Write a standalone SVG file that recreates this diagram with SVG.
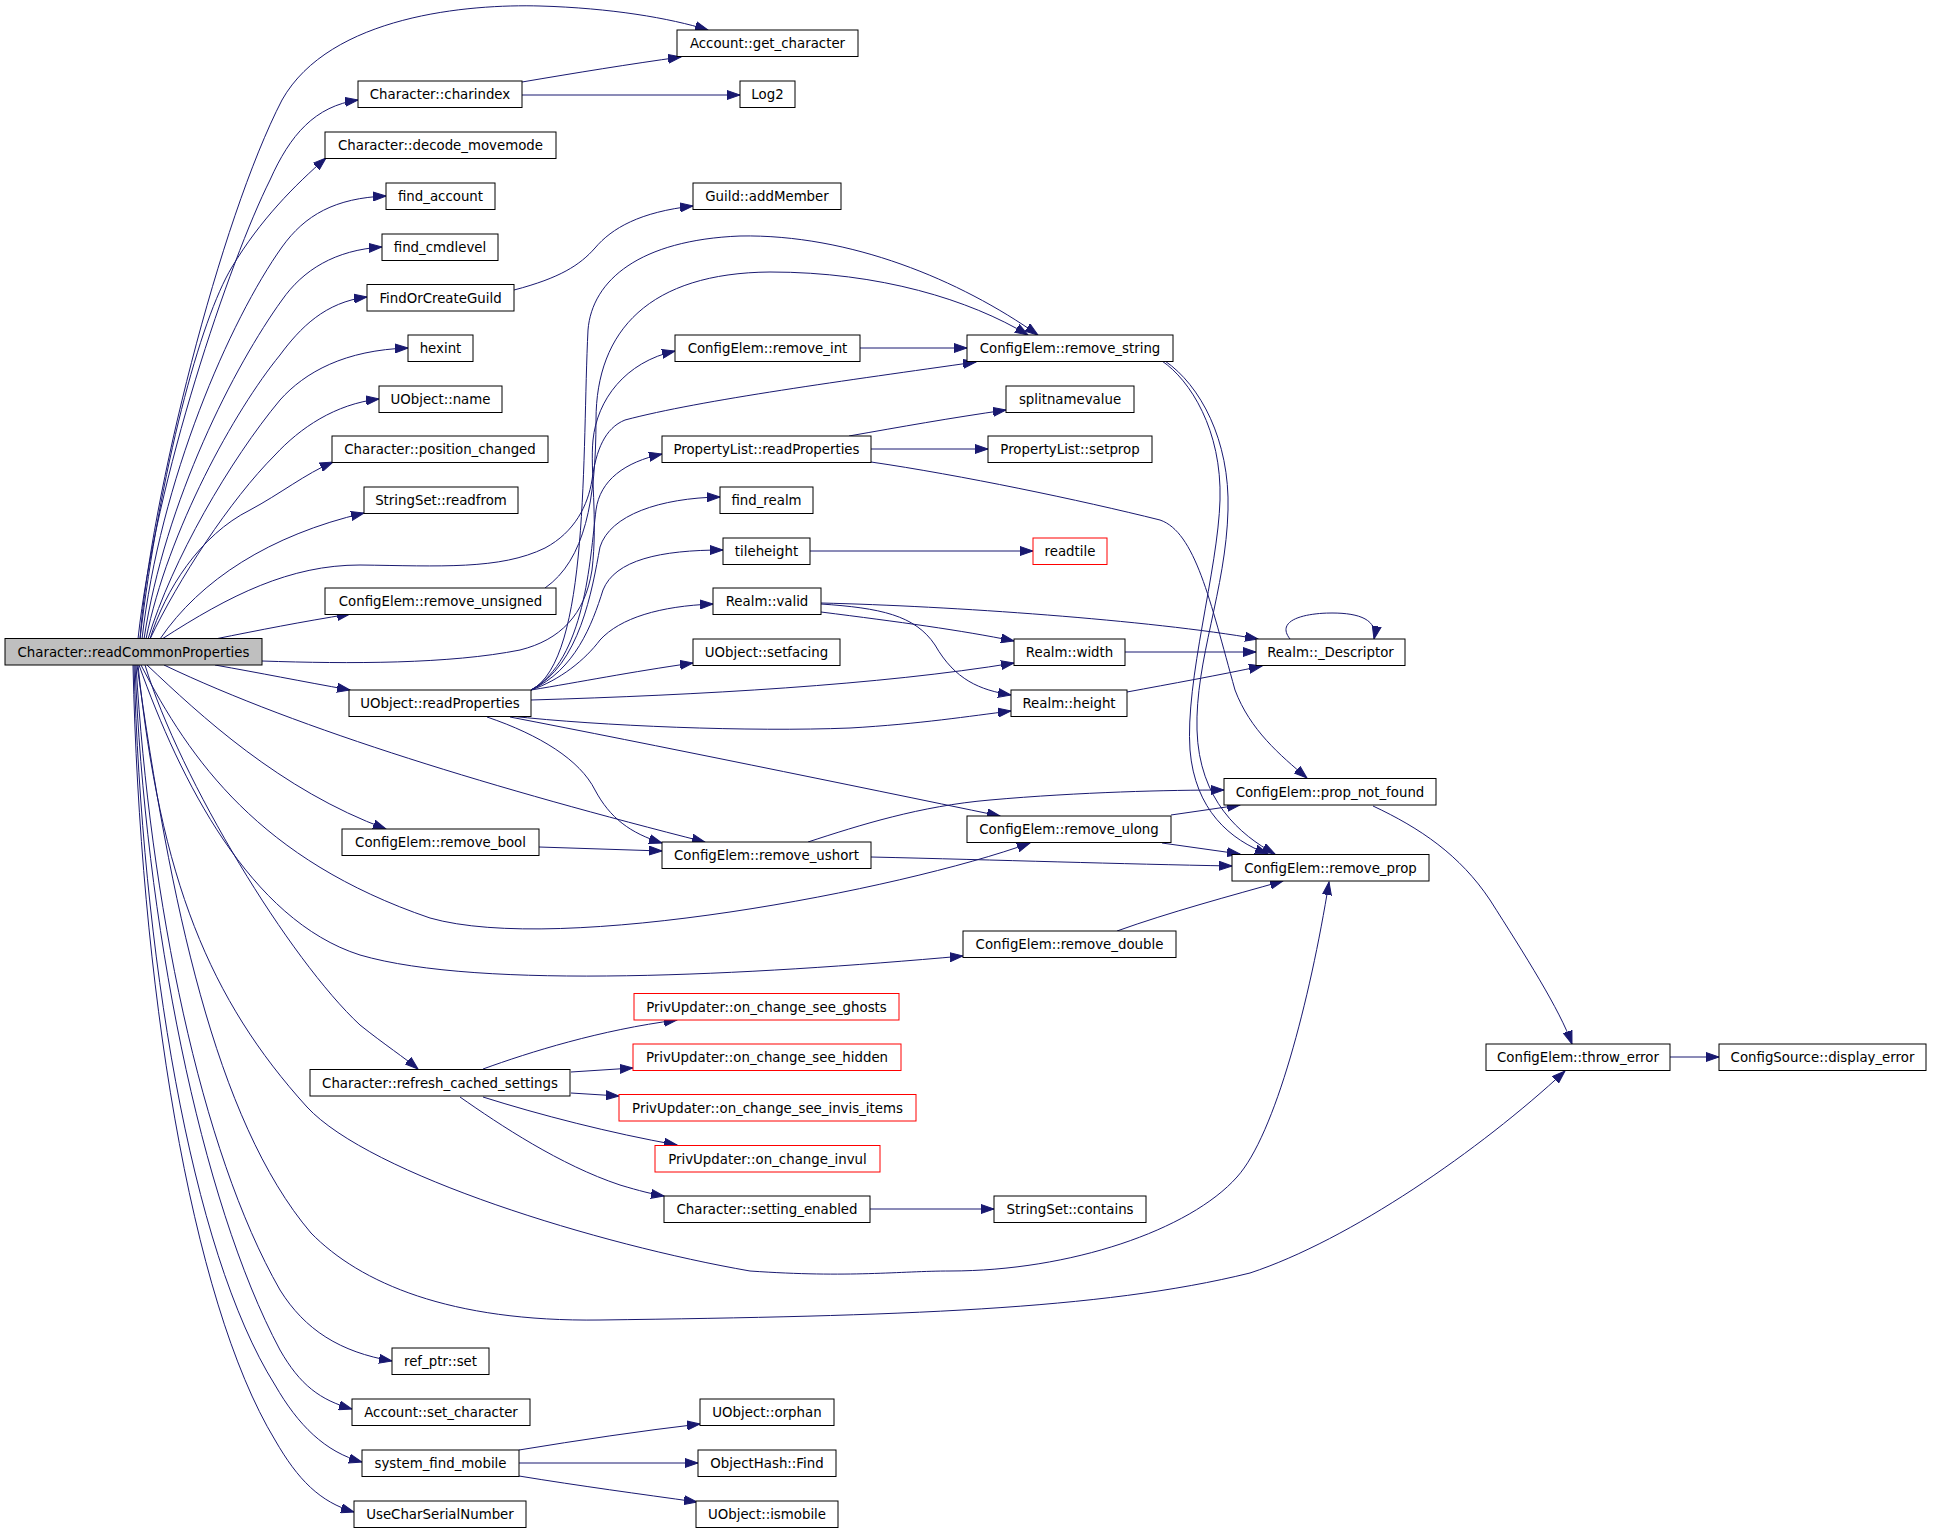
<svg xmlns="http://www.w3.org/2000/svg" width="1933" height="1532" viewBox="0 0 1933 1532">
<style>
.n rect{fill:#fff;stroke:#000;stroke-width:1}
.n.red rect{stroke:#ff0000}
.n.root rect{fill:#bfbfbf}
.n text{font-family:"DejaVu Sans","Liberation Sans",sans-serif;font-size:13.33px;text-anchor:middle;fill:#000}
#edges path{fill:none;stroke:#191970;stroke-width:1;marker-end:url(#arr)}
</style>
<defs>
<marker id="arr" markerUnits="userSpaceOnUse" markerWidth="14" markerHeight="10" viewBox="0 0 14 10" refX="13" refY="5" orient="auto">
<path d="M0,0.5 L13,5 L0,9.5 z" fill="#191970" stroke="#191970" stroke-width="1"/>
</marker>
</defs>
<rect width="1933" height="1532" fill="#fff"/>
<g id="edges">
<path d="M140,639 C150,500 220,220 282,100 C330,15 470,4 540,6 C610,8 670,18 708,30"/>
<path d="M138,639 C155,480 230,260 270,180 C290,135 315,106 358,100"/>
<path d="M140,639 C160,470 200,320 232,267 C260,220 295,185 326,158"/>
<path d="M142,639 C160,480 230,320 282,247 C305,215 335,198 386,196"/>
<path d="M144,639 C165,500 235,365 282,300 C303,270 335,250 382,247"/>
<path d="M146,639 C168,530 235,410 280,355 C300,328 325,302 367,297"/>
<path d="M148,639 C172,560 230,460 280,400 C305,372 345,350 408,348"/>
<path d="M150,639 C178,580 230,500 275,455 C300,428 335,404 379,399"/>
<path d="M150,639 C165,590 200,535 250,510 C280,494 305,474 333,462"/>
<path d="M160,639 C200,580 270,535 364,513"/>
<path d="M215,639 C260,630 300,622 350,614"/>
<path d="M215,665 C260,673 300,681 350,690"/>
<path d="M162,639 C230,595 290,565 360,565 C440,566 500,570 545,548 C575,532 588,505 592,480 C596,450 605,428 625,420 C700,400 850,380 976,362"/>
<path d="M262,661 C350,664 450,664 520,650 C560,640 585,615 592,570 C598,520 590,470 593,440 C597,400 625,362 675,351"/>
<path d="M147,665 C200,715 280,790 386,829"/>
<path d="M164,665 C300,730 500,790 705,842"/>
<path d="M141,665 C190,760 260,860 430,918 C560,955 900,890 1030,843"/>
<path d="M139,665 C180,780 250,920 360,955 C480,990 750,975 963,956"/>
<path d="M145,665 C180,780 290,960 360,1025 C385,1045 405,1058 418,1069"/>
<path d="M138,665 C160,880 210,1000 307,1107 C370,1175 600,1245 750,1271 C850,1278 900,1271 950,1271 C1070,1271 1190,1230 1237,1177 C1275,1135 1310,1000 1329,882"/>
<path d="M137,665 C170,900 215,1120 311,1233 C360,1283 450,1322 600,1320 C900,1316 1100,1310 1250,1273 C1350,1240 1480,1150 1565,1071"/>
<path d="M136,665 C150,900 200,1150 280,1290 C305,1330 340,1352 392,1361"/>
<path d="M135,665 C145,920 200,1200 280,1350 C300,1385 320,1400 352,1409"/>
<path d="M134,665 C142,950 190,1250 275,1385 C298,1425 325,1452 362,1462"/>
<path d="M133,665 C140,980 190,1300 275,1440 C298,1480 320,1502 354,1512"/>
<path d="M522,82 C575,73 630,64 681,57"/>
<path d="M522,95 L740,95"/>
<path d="M514,290 C560,278 580,265 595,248 C612,228 640,212 693,206"/>
<path d="M531,690 C590,660 582,450 588,330 C592,280 640,240 740,236 C850,234 960,280 1038,335"/>
<path d="M545,588 C585,560 596,500 596,420 C596,330 650,273 770,272 C880,272 970,300 1028,335"/>
<path d="M531,690 C585,660 590,560 596,510 C600,480 625,462 662,454"/>
<path d="M531,690 C580,665 592,590 600,547 C610,515 660,498 720,497"/>
<path d="M531,690 C575,670 592,625 603,590 C615,560 660,550 723,550"/>
<path d="M531,690 C560,680 585,660 600,640 C620,618 660,606 713,604"/>
<path d="M531,690 C580,682 630,672 693,663"/>
<path d="M531,700 C700,695 880,685 1014,663"/>
<path d="M510,716 C600,726 750,732 850,728 C920,724 970,716 1011,711"/>
<path d="M510,717 C650,744 850,785 1000,816"/>
<path d="M487,717 C540,735 580,760 595,790 C610,818 630,833 662,843"/>
<path d="M860,348 L967,348"/>
<path d="M849,436 C900,427 950,418 1006,410"/>
<path d="M871,449 L988,449"/>
<path d="M871,462 C960,475 1080,500 1160,520 C1195,532 1210,600 1235,690 C1250,730 1280,755 1307,778"/>
<path d="M1162,361 C1190,380 1222,430 1220,500 C1218,570 1185,680 1190,750 C1195,810 1230,840 1268,854"/>
<path d="M1165,361 C1200,385 1230,440 1228,510 C1226,590 1195,660 1197,730 C1199,800 1240,835 1275,854"/>
<path d="M810,551 L1033,551"/>
<path d="M821,603 C950,606 1150,620 1258,639"/>
<path d="M821,612 C900,622 960,630 1014,641"/>
<path d="M821,604 C880,608 915,615 935,645 C955,680 980,690 1011,695"/>
<path d="M1125,652 L1256,652"/>
<path d="M1127,692 C1170,684 1220,675 1262,666"/>
<path d="M1290,639 C1275,620 1305,613 1332,613 C1360,613 1378,620 1374,639"/>
<path d="M808,842 C860,825 920,806 990,800 C1080,792 1170,790 1224,790"/>
<path d="M871,857 C1000,860 1120,864 1232,866"/>
<path d="M539,847 L662,851"/>
<path d="M1171,815 L1240,805"/>
<path d="M1162,843 L1240,854"/>
<path d="M1117,931 C1170,912 1230,896 1283,881"/>
<path d="M1373,806 C1420,828 1460,855 1490,900 C1525,955 1560,1010 1572,1044"/>
<path d="M1670,1057 L1719,1057"/>
<path d="M483,1069 C530,1052 600,1030 677,1020"/>
<path d="M571,1072 L633,1068"/>
<path d="M571,1093 L619,1096"/>
<path d="M483,1097 C540,1115 610,1133 677,1145"/>
<path d="M460,1097 C500,1125 560,1165 620,1185 C640,1191 652,1194 664,1196"/>
<path d="M870,1209 L994,1209"/>
<path d="M519,1450 C580,1440 640,1431 700,1424"/>
<path d="M519,1463 L698,1463"/>
<path d="M519,1476 C580,1486 640,1494 697,1502"/>
</g>
<g id="n_R" class="n root"><rect x="5" y="638.5" width="257" height="26.5"/><text x="133.5" y="656.5">Character::readCommonProperties</text></g>
<g id="n_get_character" class="n"><rect x="677" y="30" width="181" height="26.5"/><text x="767.5" y="48">Account::get_character</text></g>
<g id="n_charindex" class="n"><rect x="358" y="81" width="164" height="26.5"/><text x="440" y="99">Character::charindex</text></g>
<g id="n_log2" class="n"><rect x="740" y="81" width="55" height="26.5"/><text x="767.5" y="99">Log2</text></g>
<g id="n_decode" class="n"><rect x="325" y="132" width="231" height="26.5"/><text x="440.5" y="150">Character::decode_movemode</text></g>
<g id="n_find_account" class="n"><rect x="386" y="183" width="109" height="26.5"/><text x="440.5" y="201">find_account</text></g>
<g id="n_addmember" class="n"><rect x="693" y="183" width="148" height="26.5"/><text x="767" y="201">Guild::addMember</text></g>
<g id="n_cmdlevel" class="n"><rect x="382" y="234" width="116" height="26.5"/><text x="440" y="252">find_cmdlevel</text></g>
<g id="n_guild" class="n"><rect x="367" y="284.5" width="147" height="26.5"/><text x="440.5" y="302.5">FindOrCreateGuild</text></g>
<g id="n_hexint" class="n"><rect x="408" y="335" width="65" height="26.5"/><text x="440.5" y="353">hexint</text></g>
<g id="n_remove_int" class="n"><rect x="675" y="335" width="185" height="26.5"/><text x="767.5" y="353">ConfigElem::remove_int</text></g>
<g id="n_remove_string" class="n"><rect x="967" y="335" width="206" height="26.5"/><text x="1070" y="353">ConfigElem::remove_string</text></g>
<g id="n_name" class="n"><rect x="379" y="386" width="123" height="26.5"/><text x="440.5" y="404">UObject::name</text></g>
<g id="n_splitnamevalue" class="n"><rect x="1006" y="386" width="128" height="26.5"/><text x="1070" y="404">splitnamevalue</text></g>
<g id="n_position_changed" class="n"><rect x="332" y="436" width="216" height="26.5"/><text x="440" y="454">Character::position_changed</text></g>
<g id="n_pl_readprops" class="n"><rect x="662" y="436" width="209" height="26.5"/><text x="766.5" y="454">PropertyList::readProperties</text></g>
<g id="n_setprop" class="n"><rect x="988" y="436" width="164" height="26.5"/><text x="1070" y="454">PropertyList::setprop</text></g>
<g id="n_readfrom" class="n"><rect x="364" y="487" width="154" height="26.5"/><text x="441" y="505">StringSet::readfrom</text></g>
<g id="n_find_realm" class="n"><rect x="720" y="487" width="93" height="26.5"/><text x="766.5" y="505">find_realm</text></g>
<g id="n_tileheight" class="n"><rect x="723" y="538" width="87" height="26.5"/><text x="766.5" y="556">tileheight</text></g>
<g id="n_readtile" class="n red"><rect x="1033" y="538" width="74" height="26.5"/><text x="1070" y="556">readtile</text></g>
<g id="n_remove_unsigned" class="n"><rect x="325" y="588" width="231" height="26.5"/><text x="440.5" y="606">ConfigElem::remove_unsigned</text></g>
<g id="n_valid" class="n"><rect x="713" y="588" width="108" height="26.5"/><text x="767" y="606">Realm::valid</text></g>
<g id="n_setfacing" class="n"><rect x="693" y="639" width="147" height="26.5"/><text x="766.5" y="657">UObject::setfacing</text></g>
<g id="n_width" class="n"><rect x="1014" y="639" width="111" height="26.5"/><text x="1069.5" y="657">Realm::width</text></g>
<g id="n_descriptor" class="n"><rect x="1256" y="639" width="149" height="26.5"/><text x="1330.5" y="657">Realm::_Descriptor</text></g>
<g id="n_U" class="n"><rect x="349" y="690" width="182" height="26.5"/><text x="440" y="708">UObject::readProperties</text></g>
<g id="n_height" class="n"><rect x="1011" y="690" width="116" height="26.5"/><text x="1069" y="708">Realm::height</text></g>
<g id="n_prop_not_found" class="n"><rect x="1224" y="778.5" width="212" height="26.5"/><text x="1330" y="796.5">ConfigElem::prop_not_found</text></g>
<g id="n_remove_ulong" class="n"><rect x="967" y="816" width="204" height="26.5"/><text x="1069" y="834">ConfigElem::remove_ulong</text></g>
<g id="n_remove_bool" class="n"><rect x="342" y="829" width="197" height="26.5"/><text x="440.5" y="847">ConfigElem::remove_bool</text></g>
<g id="n_remove_ushort" class="n"><rect x="662" y="842" width="209" height="26.5"/><text x="766.5" y="860">ConfigElem::remove_ushort</text></g>
<g id="n_remove_prop" class="n"><rect x="1232" y="854.5" width="197" height="26.5"/><text x="1330.5" y="872.5">ConfigElem::remove_prop</text></g>
<g id="n_remove_double" class="n"><rect x="963" y="931" width="213" height="26.5"/><text x="1069.5" y="949">ConfigElem::remove_double</text></g>
<g id="n_see_ghosts" class="n red"><rect x="634" y="993.5" width="265" height="26.5"/><text x="766.5" y="1011.5">PrivUpdater::on_change_see_ghosts</text></g>
<g id="n_see_hidden" class="n red"><rect x="633" y="1044" width="268" height="26.5"/><text x="767" y="1062">PrivUpdater::on_change_see_hidden</text></g>
<g id="n_throw_error" class="n"><rect x="1486" y="1044" width="184" height="26.5"/><text x="1578" y="1062">ConfigElem::throw_error</text></g>
<g id="n_display_error" class="n"><rect x="1719" y="1044" width="207" height="26.5"/><text x="1822.5" y="1062">ConfigSource::display_error</text></g>
<g id="n_refresh" class="n"><rect x="310" y="1069.5" width="260" height="26.5"/><text x="440" y="1087.5">Character::refresh_cached_settings</text></g>
<g id="n_see_invis" class="n red"><rect x="619" y="1094.5" width="297" height="26.5"/><text x="767.5" y="1112.5">PrivUpdater::on_change_see_invis_items</text></g>
<g id="n_invul" class="n red"><rect x="655" y="1145.5" width="225" height="26.5"/><text x="767.5" y="1163.5">PrivUpdater::on_change_invul</text></g>
<g id="n_setting_enabled" class="n"><rect x="664" y="1196" width="206" height="26.5"/><text x="767" y="1214">Character::setting_enabled</text></g>
<g id="n_contains" class="n"><rect x="994" y="1196" width="152" height="26.5"/><text x="1070" y="1214">StringSet::contains</text></g>
<g id="n_ref_ptr_set" class="n"><rect x="392" y="1348" width="97" height="26.5"/><text x="440.5" y="1366">ref_ptr::set</text></g>
<g id="n_set_character" class="n"><rect x="352" y="1399" width="178" height="26.5"/><text x="441" y="1417">Account::set_character</text></g>
<g id="n_orphan" class="n"><rect x="700" y="1399" width="134" height="26.5"/><text x="767" y="1417">UObject::orphan</text></g>
<g id="n_system_find_mobile" class="n"><rect x="362" y="1450" width="157" height="26.5"/><text x="440.5" y="1468">system_find_mobile</text></g>
<g id="n_find" class="n"><rect x="698" y="1450" width="138" height="26.5"/><text x="767" y="1468">ObjectHash::Find</text></g>
<g id="n_usecharserial" class="n"><rect x="354" y="1501" width="172" height="26.5"/><text x="440" y="1519">UseCharSerialNumber</text></g>
<g id="n_ismobile" class="n"><rect x="696" y="1501" width="142" height="26.5"/><text x="767" y="1519">UObject::ismobile</text></g>
</svg>
